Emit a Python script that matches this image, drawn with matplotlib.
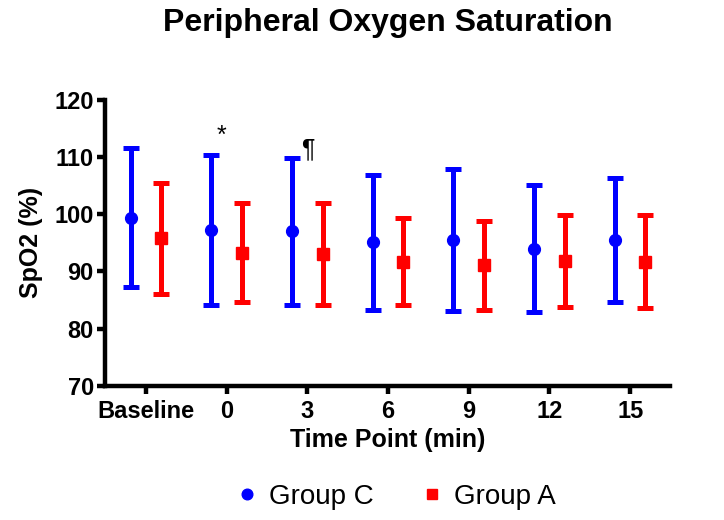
import matplotlib
matplotlib.use("Agg")
import matplotlib.pyplot as plt
import numpy as np

plt.rcParams['font.family'] = ['Liberation Sans', 'DejaVu Sans']

categories = ["Baseline", "0", "3", "6", "9", "12", "15"]
group_c_mean = [99.4, 97.2, 97.0, 95.1, 95.5, 94.0, 95.5]
group_c_sd = [12.2, 13.1, 12.8, 11.8, 12.4, 11.1, 10.8]
group_a_mean = [95.8, 93.3, 93.0, 91.7, 91.1, 91.8, 91.7]
group_a_sd = [9.7, 8.7, 8.9, 7.6, 7.8, 8.0, 8.1]
annotations = [("*", 1), ("¶", 2)]

fig = plt.figure(figsize=(7.24, 5.2), dpi=100)
ax = fig.add_axes([0.145, 0.258, 0.780, 0.550])

x = np.arange(len(categories))
off = 0.19
ax.errorbar(x - off, group_c_mean, yerr=group_c_sd, fmt='o', color='#0000FF',
            ecolor='#0000FF', elinewidth=3.6, capsize=6, capthick=3.6,
            markersize=8.5, label='Group C')
ax.errorbar(x + off, group_a_mean, yerr=group_a_sd, fmt='s', color='#FF0000',
            ecolor='#FF0000', elinewidth=3.6, capsize=6, capthick=3.6,
            markersize=8.5, label='Group A')

for sym, i in annotations:
    top = group_c_mean[i] + group_c_sd[i]
    if sym == "*":
        ax.text(x[i] - off + 0.13, top + 1.3, sym, ha='center', va='bottom', fontsize=18)
    else:
        ax.text(x[i] - off + 0.20, top - 0.5, sym, ha='center', va='bottom', fontsize=18)

ax.set_xlim(-0.51, 6.49)
ax.set_ylim(70, 120)
ax.set_yticks([70, 80, 90, 100, 110, 120])
ax.set_xticks(x)
ax.set_xticklabels(categories)
for s in ['top', 'right']:
    ax.spines[s].set_visible(False)
for s in ['left', 'bottom']:
    ax.spines[s].set_linewidth(3.2)
ax.tick_params(axis='both', width=3.2, length=6, labelsize=17, pad=2)
ax.tick_params(axis='x', pad=4)
for lab in ax.get_xticklabels() + ax.get_yticklabels():
    lab.set_fontweight('bold')

ax.set_xlabel("Time Point (min)", fontsize=18, fontweight='bold', labelpad=4)
ax.set_ylabel("SpO2 (%)", fontsize=18, fontweight='bold', labelpad=8)
fig.text(0.536, 0.94, "Peripheral Oxygen Saturation", ha='center', va='baseline',
         fontsize=23, fontweight='bold')

handles, labels = ax.get_legend_handles_labels()
handles = [h[0] for h in handles]
fig.legend(handles, labels, loc='center', bbox_to_anchor=(0.545, 0.045), ncol=2,
           frameon=False, fontsize=20, handletextpad=0.3, columnspacing=1.6,
           handlelength=1.0, markerscale=0.9)

fig.savefig("out.png", dpi=100)
